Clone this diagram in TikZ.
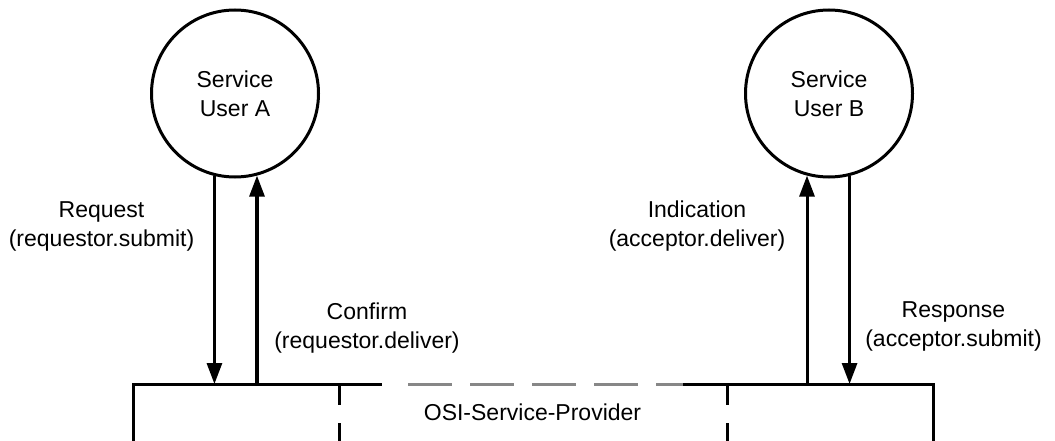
\documentclass[tikz,border=0pt]{standalone}
\usepackage{fontspec}
\setmainfont{Liberation Sans}
\usetikzlibrary{arrows.meta}
\tikzset{
  ln/.style={line width=3pt, black},
  arr/.style={ln, -{Triangle[length=21pt,width=15pt]}},
  usr/.style={circle, draw, line width=3pt, minimum size=167pt, inner sep=0pt, align=center, font=\fontsize{23}{29}\selectfont},
  lbl/.style={align=center, font=\fontsize{23}{29}\selectfont, inner sep=0pt},
  greydash/.style={line width=3pt, color={rgb,255:red,135;green,135;blue,135}, dash pattern=on 44pt off 18pt},
  blackdash/.style={ln, dash pattern=on 21pt off 18pt}
}
\begin{document}
\begin{tikzpicture}[x=1pt,y=-1pt]
\useasboundingbox (0,0) rectangle (1055,441);
\node[usr] (ua) at (235,93.5) {Service\\User A};
\node[usr] (ub) at (829,93.5) {Service\\User B};
\coordinate (base) at (0,384);
\coordinate (lstart) at (133,441);
\coordinate (lcorner) at (133,384);
\coordinate (lend) at (382,384);
\coordinate (gstart) at (408,384);
\coordinate (rstart) at (683,384);
\coordinate (rcorner) at (933,384);
\coordinate (rend) at (933,441);
\coordinate (d1t) at (339,384);
\coordinate (d1b) at (339,441);
\coordinate (d2t) at (727,384);
\coordinate (d2b) at (727,441);
\draw[ln] (lstart) -- (lcorner) -- (lend);
\draw[ln] (rstart) -- (rcorner) -- (rend);
\draw[greydash] (gstart) -- (rstart);
\draw[blackdash] (d1t) -- (d1b);
\draw[blackdash] (d2t) -- (d2b);
\draw[arr] (ua.256.8) -- (ua.256.8 |- base);
\draw[arr] (ua.285.3 |- base) -- (ua.285.3);
\draw[arr] (ub.255.4 |- base) -- (ub.255.4);
\draw[arr] (ub.284.6) -- (ub.284.6 |- base);
\node[lbl] (lreq) at (101.5,226) {Request\\(requestor.submit)};
\node[lbl] (lind) at (697,226) {Indication\\(acceptor.deliver)};
\node[lbl] (lconf) at (367,328) {Confirm\\(requestor.deliver)};
\node[lbl] (lresp) at (953.5,326) {Response\\(acceptor.submit)};
\node[lbl] (lprov) at (532.5,412) {OSI-Service-Provider};
\end{tikzpicture}
\end{document}
